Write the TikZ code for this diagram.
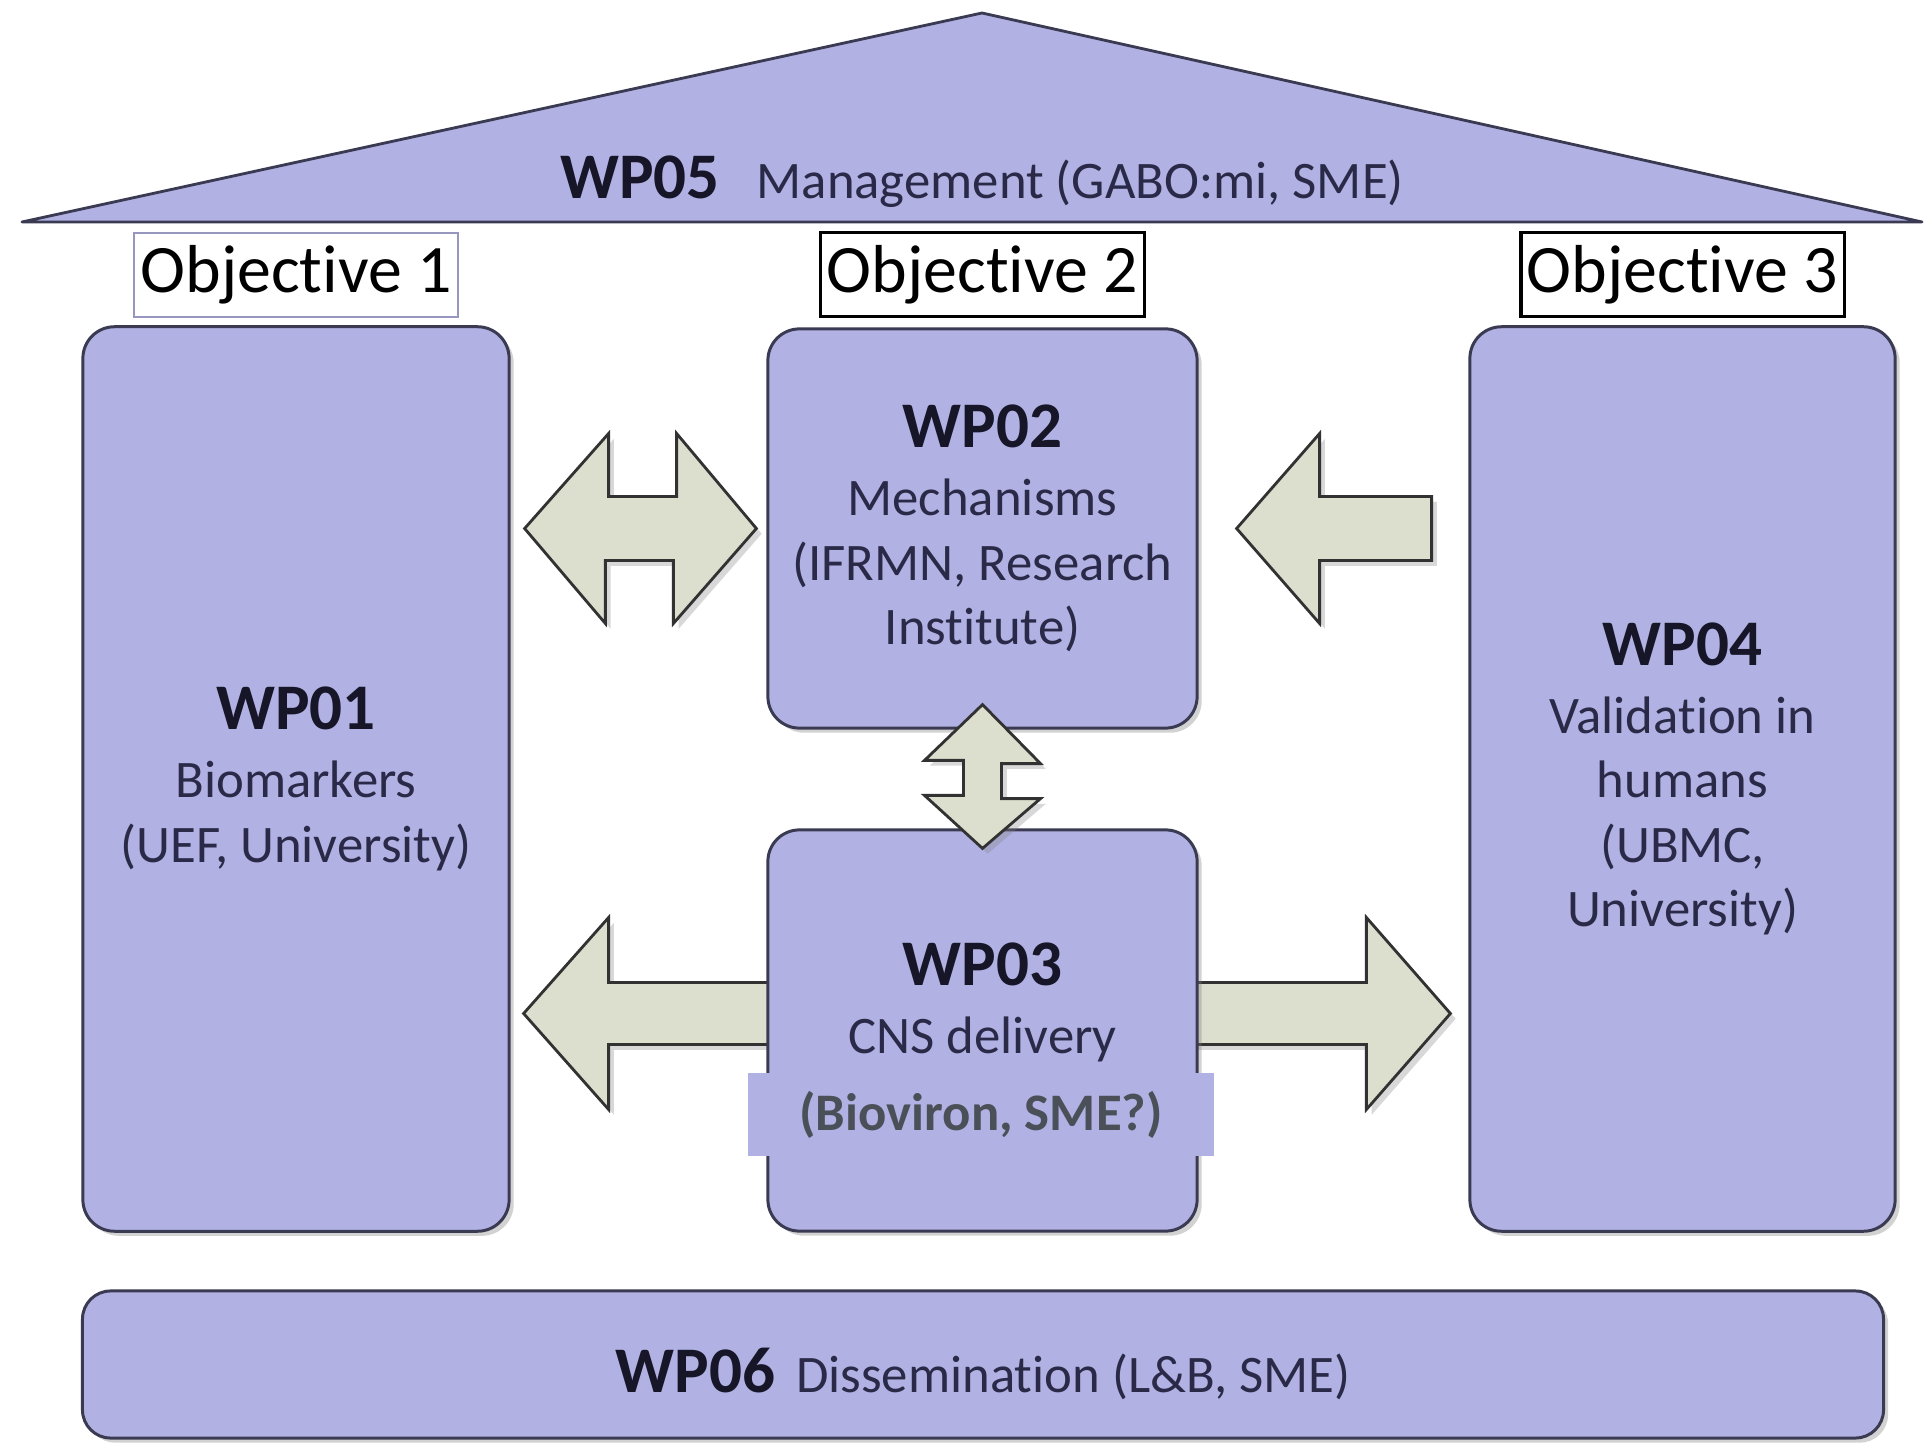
\documentclass[tikz,border=0pt]{standalone}
\usepackage{fontspec}
\setmainfont{Carlito}[Ligatures=NoCommon]
\usetikzlibrary{positioning,calc,shadows,backgrounds}

\definecolor{wpfill}{RGB}{177,177,227}
\definecolor{wpborder}{RGB}{58,58,82}
\definecolor{arrowfill}{RGB}{221,223,206}
\definecolor{arrowborder}{RGB}{50,50,50}
\definecolor{titletext}{RGB}{22,22,40}
\definecolor{bodytext}{RGB}{42,42,72}
\definecolor{biotext}{RGB}{75,80,88}
\definecolor{objlight}{RGB}{150,150,190}
\newcommand{\wptitle}{\color{titletext}\fontsize{18.5}{18.3}\selectfont\bfseries}

\begin{document}
\begin{tikzpicture}[x=0.01cm, y=-0.01cm,
        wp/.style={draw=wpborder, line width=0.85pt, fill=wpfill, rounded corners=9pt,
          align=center, text=bodytext, font=\fontsize{15}{18.3}\selectfont,
          drop shadow={shadow xshift=1.3pt, shadow yshift=-1.3pt, opacity=0.35}},
        objbox/.style={draw=black, line width=0.9pt, fill=white, inner sep=0pt,
          minimum width=3.23cm, minimum height=0.84cm, font=\fontsize{19.3}{22}\selectfont},
        blockarr/.style={draw=arrowborder, line width=0.8pt, fill=arrowfill, line join=miter,
          drop shadow={shadow xshift=1.5pt, shadow yshift=-1.5pt, opacity=0.3}}
        ]
        \useasboundingbox (0,0) rectangle (1924,1443);
        \begin{pgfonlayer}{background}
          \fill[white] (0,0) rectangle (1924,1443);
        \end{pgfonlayer}

        \draw[fill=wpfill, draw=wpborder, line width=0.8pt, line join=round] (22,222) -- (982,13) -- (1922,222) -- cycle;
        \node[anchor=base, text=bodytext, font=\fontsize{15}{18}\selectfont] (wp05) at (982,199)
          {{\wptitle WP05}\hspace{10.5pt}Management (GABO:mi, SME)};

        \node[wp, minimum width=4.26cm, minimum height=9.04cm] (wp01) at (296,779)
          {{\wptitle WP01}\\[1pt] Biomarkers\\(UEF, University)};
        \node[wp, minimum width=4.29cm, minimum height=3.99cm] (wp02) at (982.5,528.5)
          {{\wptitle WP02}\\[1pt] Mechanisms\\(IFRMN, Research\\Institute)};
        \node[wp, minimum width=4.29cm, minimum height=4.01cm] (wp03) at (982.5,1030.5)
          {{\wptitle WP03}\\[1pt] CNS delivery\\ \mbox{}};
        \node[wp, minimum width=4.25cm, minimum height=9.04cm] (wp04) at (1682.5,779)
          {{\wptitle WP04}\\[1pt] Validation in\\humans\\(UBMC,\\University)};
        \node[wp, rounded corners=8pt, minimum width=18cm, minimum height=1.47cm,
          text height=16.2pt, text depth=0pt] (wp06) at (983,1364.5)
          {{\wptitle WP06}\hspace{6pt}Dissemination (L\&B, SME)};

        \node[fill=wpfill, inner sep=0pt, minimum width=4.66cm, minimum height=0.83cm,
          text=biotext, font=\fontsize{15}{18}\selectfont\bfseries] (bioviron) at (981,1114.5) {(Bioviron, SME?)};

        \node[objbox, draw=objlight, line width=0.6pt, above=0.07cm of wp01] (obj1) {Objective 1};
        \node[objbox, above=0.09cm of wp02] (obj2) {Objective 2};
        \node[objbox, above=0.07cm of wp04] (obj3) {Objective 3};

        \draw[blockarr] ($(wp01.east |- wp02.west)+(14,0)$) -- ++(84,-95) -- ++(0,63) -- ++(68,0) -- ++(0,-63)
          -- ($(wp02.west)+(-10,0)$) -- ++(-83,95) -- ++(0,-63) -- ++(-68,0) -- ++(0,63) -- cycle;
        \draw[blockarr] ($(wp02.east)+(38,0)$) -- ++(83,-95) -- ++(0,63) -- ++(112,0) -- ++(0,64)
          -- ++(-112,0) -- ++(0,63) -- cycle;
        \draw[blockarr] ($(wp02.south)+(0,-25)$) -- ++(58,59) -- ++(-39,0) -- ++(0,35) -- ++(39,0)
          -- ($(wp03.north)+(0,20)$) -- ++(-58,-53) -- ++(39,0) -- ++(0,-35) -- ++(-39,0) -- cycle;
        \begin{pgfonlayer}{background}
          \draw[blockarr] ($(wp01.east |- wp03.west)+(13,-17)$) -- ++(85,-96) -- ++(0,65) -- ++(173,0)
            -- ++(0,62) -- ++(-173,0) -- ++(0,65) -- cycle;
          \draw[blockarr] ($(wp04.west |- wp03.east)+(-18,-17)$) -- ++(-84,-96) -- ++(0,65) -- ++(-183,0)
            -- ++(0,62) -- ++(183,0) -- ++(0,65) -- cycle;
        \end{pgfonlayer}
      \end{tikzpicture}
\end{document}
